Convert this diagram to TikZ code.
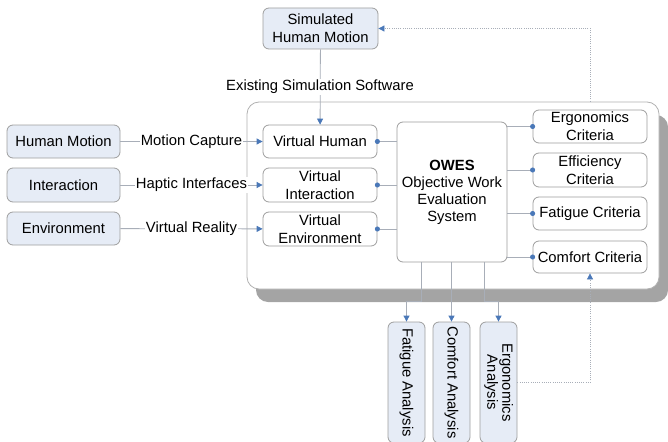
\documentclass[tikz,border=0pt]{standalone}
\usepackage{fontspec}
\setmainfont{Liberation Sans}
\usetikzlibrary{arrows.meta,shadows}
\definecolor{boxblue}{HTML}{E6ECF6}
\definecolor{edgegray}{HTML}{9E9E9E}
\definecolor{linegray}{HTML}{A8AEB8}
\definecolor{tipblue}{HTML}{4A78B8}
\definecolor{shadowgray}{HTML}{A4A4A4}
\begin{document}
\begin{tikzpicture}[x=1pt,y=-1pt,
  font=\fontsize{14.8}{18}\selectfont,
  bx/.style={draw=edgegray, line width=0.8pt, rounded corners=6pt, align=center, inner sep=0pt},
  ext/.style={bx, fill=boxblue},
  inn/.style={bx, fill=white},
  conn/.style={draw=linegray, line width=0.8pt},
  arr/.style={conn, -{Triangle[length=6pt,width=6pt,color=tipblue]}},
  dotc/.style={conn, {Circle[length=5pt,color=tipblue]}-, shorten <=-2.5pt},
  dotd/.style={conn, -{Circle[length=5pt,color=tipblue]}, shorten >=-2.5pt},
  lbl/.style={fill=white, inner sep=1pt},
  dots/.style={draw=linegray, line width=0.8pt, dash pattern=on 1pt off 1.2pt}
]
\useasboundingbox (0,0) rectangle (668,441);
\clip (0,0) rectangle (668,441);

% container with shadow
\node[draw=edgegray!80, line width=0.8pt, fill=white, rounded corners=12pt,
      minimum width=412pt, minimum height=187pt, inner sep=0pt,
      general shadow={shadow xshift=9pt, shadow yshift=-13pt, fill=shadowgray, rounded corners=12pt}]
      (cont) at (453,195.5) {};

% outer boxes
\node[ext, minimum width=115pt, minimum height=41pt] (shm) at (320.5,28.5) {Simulated\\Human Motion};
\node[ext, minimum width=113pt, minimum height=33pt] (hm) at (63.5,141.5) {Human Motion};
\node[ext, minimum width=113pt, minimum height=34pt] (inter) at (63.5,185) {Interaction};
\node[ext, minimum width=113pt, minimum height=33pt] (env) at (63.5,228.5) {Environment};

% inner boxes
\node[inn, minimum width=114pt, minimum height=33pt] (vh) at (320,141.5) {Virtual Human};
\node[inn, minimum width=114pt, minimum height=34pt] (vi) at (320,185) {Virtual\\Interaction};
\node[inn, minimum width=114pt, minimum height=34pt] (ve) at (320,229) {Virtual\\Environment};
\node[inn, minimum width=110pt, minimum height=140pt, font=\fontsize{14.8}{17}\selectfont] (owes) at (452,192)
  {\textbf{OWES}\\Objective Work\\Evaluation\\System};
\node[inn, minimum width=114pt, minimum height=33pt] (ergc) at (590,126.5) {Ergonomics\\Criteria};
\node[inn, minimum width=114pt, minimum height=34pt] (effc) at (590,170) {Efficiency\\Criteria};
\node[inn, minimum width=114pt, minimum height=33pt] (fatc) at (590,213.5) {Fatigue Criteria};
\node[inn, minimum width=114pt, minimum height=32pt] (comc) at (590,257) {Comfort Criteria};

% bottom boxes
\node[ext, minimum width=37pt, minimum height=121pt] (fata) at (406.5,382.5) {\rotatebox{-90}{Fatigue Analysis}};
\node[ext, minimum width=37pt, minimum height=121pt] (coma) at (451.5,382.5) {\rotatebox{-90}{Comfort Analysis}};
\node[ext, minimum width=37pt, minimum height=121pt] (ergoa) at (498.5,382.5)
  {\rotatebox{-90}{\begin{tabular}{@{}c@{}}Ergonomics\\[-3pt]Analysis\end{tabular}}};

% inputs
\draw[arr] (hm) -- node[lbl, midway] (mc) {Motion Capture} (vh);
\draw[arr] (inter) -- node[lbl, midway] (hi) {Haptic Interfaces} (vi);
\draw[arr] (env) -- node[lbl, midway] (vr) {Virtual Reality} (ve);
\draw[arr] (shm) -- (vh);
\node[lbl] (ess) at (320,87) {Existing Simulation Software};

% to OWES
\draw[dotc] (vh.east) -- (vh.east -| owes.west);
\draw[dotc] (vi.east) -- (vi.east -| owes.west);
\draw[dotc] (ve.east) -- (ve.east -| owes.west);

% OWES to criteria
\draw[dotd] (ergc.west -| owes.east) -- (ergc.west);
\draw[dotd] (effc.west -| owes.east) -- (effc.west);
\draw[dotd] (fatc.west -| owes.east) -- (fatc.west);
\draw[dotd] (comc.west -| owes.east) -- (comc.west);

% OWES to analyses
\draw[arr] ([xshift=-31pt]owes.south) -- ++(0,39) -| (fata.north);
\draw[arr] (owes.south -| coma.north) -- (coma.north);
\draw[arr] ([xshift=32pt]owes.south) -- ++(0,39) -| (ergoa.north);

% feedback loops
\draw[dots, -{Triangle[length=6pt,width=6pt,color=tipblue]}] (ergoa.east) -| (comc.south);
\coordinate (fb) at (cont.north -| ergc.north);
\draw[dots, -{Triangle[length=6pt,width=6pt,color=tipblue]}] (fb) |- (shm.east);
\end{tikzpicture}
\end{document}
